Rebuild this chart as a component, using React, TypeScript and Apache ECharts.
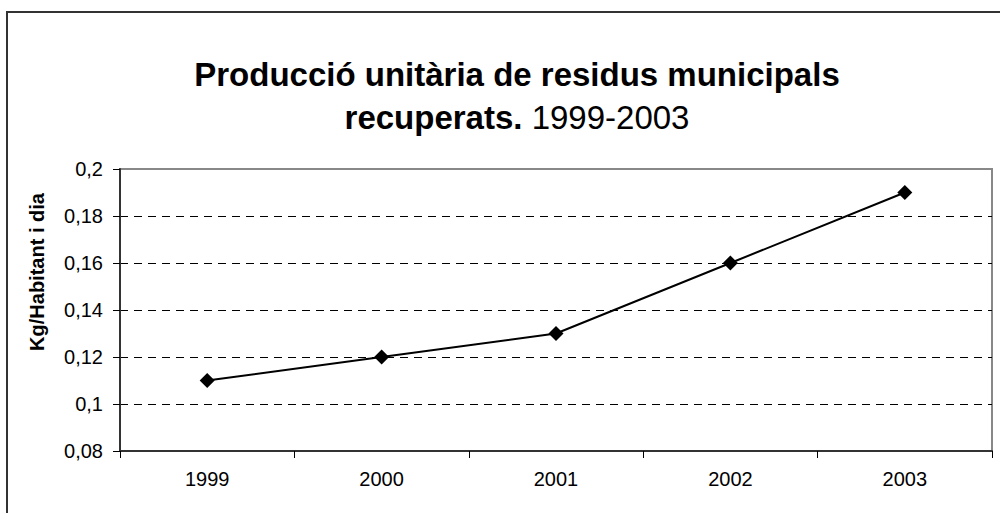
import React, { useEffect, useRef } from "react";
import * as echarts from "echarts";

const categories = ["1999", "2000", "2001", "2002", "2003"];
const values = [0.11, 0.12, 0.13, 0.16, 0.19];
const yMin = 0.08;
const yMax = 0.2;
const yStep = 0.02;
const titleLine1 = "Producció unitària de residus municipals";
const titleLine2Bold = "recuperats.";
const titleLine2Plain = " 1999-2003";
const yAxisName = "Kg/Habitant i dia";

const FONT = "'Liberation Sans', Arial, sans-serif";

export default function App() {
  const ref = useRef<HTMLDivElement>(null);
  useEffect(() => {
    document.body.style.margin = "0";
    const chart = echarts.init(ref.current!, null, { renderer: "svg" });
    chart.setOption({
      animation: false,
      backgroundColor: "#ffffff",
      title: {
        text: `{b|${titleLine1}}\n{b|${titleLine2Bold}}{n|${titleLine2Plain}}`,
        left: 517,
        top: 53,
        padding: 0,
        textAlign: "center",
        textStyle: {
          fontFamily: FONT,
          fontSize: 33,
          lineHeight: 43,
          color: "#000",
          rich: {
            b: { fontFamily: FONT, fontSize: 33, fontWeight: "bold", lineHeight: 43, color: "#000" },
            n: { fontFamily: FONT, fontSize: 33, fontWeight: "normal", lineHeight: 43, color: "#000" },
          },
        },
      },
      graphic: [
        {
          type: "rect",
          silent: true,
          z: -1,
          shape: { x: 7, y: 12, width: 1200, height: 800 },
          style: { fill: "none", stroke: "#333", lineWidth: 2 },
        },
        {
          type: "text",
          silent: true,
          x: 37,
          y: 272,
          rotation: Math.PI / 2,
          style: {
            text: yAxisName,
            fontFamily: FONT,
            fontSize: 20,
            fontWeight: "bold",
            fill: "#000",
            align: "center",
            verticalAlign: "middle",
            textAlign: "center",
            textVerticalAlign: "middle",
          },
        },
      ],
      grid: {
        left: 120,
        right: 8,
        top: 169,
        bottom: 62,
        show: true,
        borderColor: "#888",
        borderWidth: 2,
        backgroundColor: "transparent",
      },
      xAxis: {
        type: "category",
        data: categories,
        boundaryGap: true,
        axisLine: { show: true, lineStyle: { color: "#333", width: 2 } },
        axisTick: { show: true, alignWithLabel: false, inside: false, length: 7, lineStyle: { color: "#000", width: 1 } },
        axisLabel: { fontFamily: FONT, fontSize: 20, color: "#000", margin: 18 },
        splitLine: { show: false },
      },
      yAxis: {
        type: "value",
        min: yMin,
        max: yMax,
        interval: yStep,
        axisLine: { show: true, lineStyle: { color: "#333", width: 2 } },
        axisTick: { show: true, inside: false, length: 7, lineStyle: { color: "#000", width: 1 } },
        axisLabel: {
          fontFamily: FONT,
          fontSize: 20,
          color: "#000",
          margin: 17,
          formatter: (v: number) => String(parseFloat(v.toFixed(2))).replace(".", ","),
        },
        splitLine: {
          show: true,
          showMinLine: false,
          showMaxLine: false,
          lineStyle: { color: "#000", width: 1, type: [8, 6] },
        },
      },
      series: [
        {
          type: "line",
          data: values,
          symbol: "diamond",
          symbolSize: [15, 15],
          itemStyle: { color: "#000" },
          lineStyle: { color: "#000", width: 2 },
        },
      ],
    });
    return () => chart.dispose();
  }, []);
  return <div ref={ref} style={{ width: 1000, height: 513 }} />;
}
